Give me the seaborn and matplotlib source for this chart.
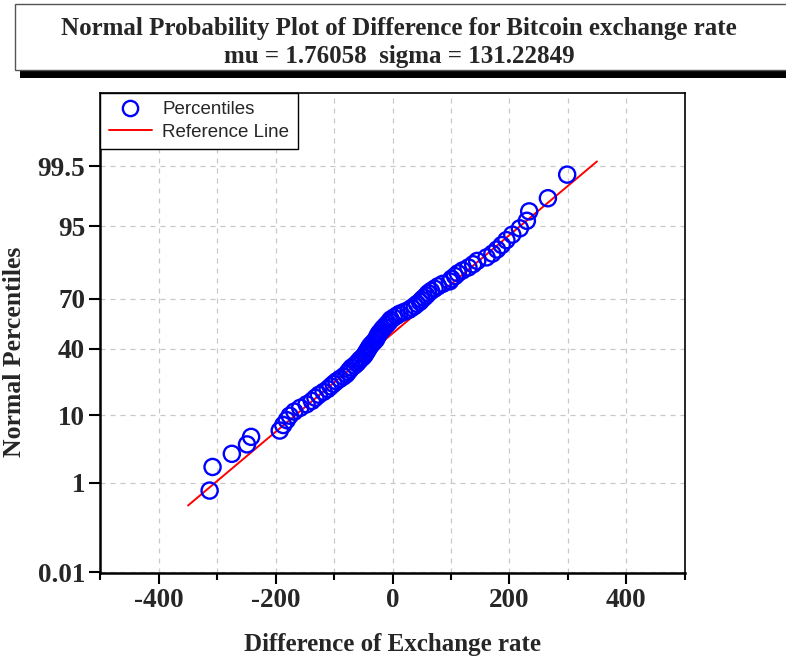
import matplotlib
matplotlib.use("Agg")
import matplotlib.pyplot as plt
import numpy as np
import pandas as pd
import seaborn as sns
from matplotlib.patches import Rectangle
from matplotlib.lines import Line2D
from matplotlib.ticker import MultipleLocator
from statistics import NormalDist

# ---- data -------------------------------------------------------------
title_line1 = "Normal Probability Plot of Difference for Bitcoin exchange rate"
title_line2 = "mu = 1.76058  sigma = 131.22849"
mu = 1.76058
sigma = 131.22849

# sorted differences
diff_values = [
    -313, -308, -275, -249, -242,
    -193, -187, -181, -176, -168,
    -158, -147, -138, -132, -126,
    -118, -111, -106, -101, -96,
    -90, -84, -79, -76, -73,
    -70, -65, -61, -58, -55,
    -51, -48, -46, -44, -42,
    -40, -38, -35, -32, -29,
    -27, -26, -24, -22,
    -19, -17, -14, -11, -8,
    -5, -3, 2, 7, 12,
    20, 28, 33, 38, 42,
    47, 50, 54, 58, 61,
    66, 72, 78, 86, 98,
    101, 107, 112, 120, 130,
    138, 145, 161, 171, 179,
    187, 195, 205, 218, 230,
    234, 266, 299,
]
ref_x = [-350, 350]
ytick_pct = [0.01, 1, 10, 40, 70, 95, 99.5]
ytick_labels = ["0.01", "1", "10", "40", "70", "95", "99.5"]
xtick_major = [-400, -200, 0, 200, 400]

# ---- derived ----------------------------------------------------------
nd = NormalDist()
n = len(diff_values)
z_pos = [nd.inv_cdf((i + 1 - 0.375) / (n + 0.25)) for i in range(n)]
df = pd.DataFrame({"x": diff_values, "z": z_pos})
ref_df = pd.DataFrame({"x": ref_x, "z": [(v - mu) / sigma for v in ref_x]})

sns.set_style("white")
plt.rcParams["font.family"] = ["Liberation Serif", "DejaVu Serif"]

fig = plt.figure(figsize=(7.86, 6.59), dpi=100)

# title box with shadow
fig.patches.append(Rectangle((20 / 786, (659 - 78) / 659), 1.2, 14 / 659,
                             transform=fig.transFigure, facecolor="black",
                             edgecolor="none", zorder=1))
fig.patches.append(Rectangle((15 / 786, (659 - 70) / 659), 1.2, 66 / 659,
                             transform=fig.transFigure, facecolor="white",
                             edgecolor="#555555", linewidth=1.0, zorder=2))
fig.text(399 / 786, 1 - 29 / 659, title_line1, ha="center", va="center",
         fontsize=18, fontweight="bold", zorder=3)
fig.text(399 / 786, 1 - 56 / 659, title_line2, ha="center", va="center",
         fontsize=18, fontweight="bold", zorder=3)

ax = fig.add_axes([100.4 / 786, 1 - 572.5 / 659, 584.2 / 786, 479.8 / 659])

sns.lineplot(data=ref_df, x="x", y="z", color="red", linewidth=1.4, ax=ax,
             zorder=3, legend=False)
sns.scatterplot(data=df, x="x", y="z", ax=ax, marker="o", s=135,
                color="blue", linewidth=1.7, zorder=4, legend=False)
for coll in ax.collections:
    coll.set_facecolor("none")
    coll.set_edgecolor("blue")

zlim = nd.inv_cdf(0.9999)
ax.set_xlim(-500, 500)
ax.set_ylim(-zlim, zlim)
ax.set_xticks(xtick_major)
ax.set_xticklabels([str(v) for v in xtick_major])
ax.xaxis.set_minor_locator(MultipleLocator(100))
ax.set_yticks([nd.inv_cdf(p / 100) for p in ytick_pct])
ax.set_yticklabels(ytick_labels)

ax.grid(True, which="both", axis="x", color="#c8c8c8", linestyle=(0, (4, 4)),
        linewidth=0.9)
ax.grid(True, which="major", axis="y", color="#c8c8c8", linestyle=(0, (4, 4)),
        linewidth=0.9)
ax.set_axisbelow(True)

for side in ["left", "right", "top", "bottom"]:
    ax.spines[side].set_visible(True)
    ax.spines[side].set_color("black")
    ax.spines[side].set_linewidth(1.2)
ax.spines["bottom"].set_linewidth(1.8)
ax.spines["left"].set_linewidth(1.8)

ax.tick_params(axis="both", which="major", direction="out", length=8,
               width=1.5, color="black", labelsize=19.5, pad=3)
ax.tick_params(axis="x", which="minor", direction="out", length=5,
               width=1.5, color="black", bottom=True)
ax.tick_params(axis="x", which="major", bottom=True)
ax.tick_params(axis="y", which="major", left=True)
for lab in ax.get_xticklabels() + ax.get_yticklabels():
    lab.set_fontweight("bold")

ax.set_xlabel("Difference of Exchange rate", fontsize=18, fontweight="bold")
ax.xaxis.set_label_coords((393 - 100.4) / 584.2, (572.5 - 644) / 479.8)
ax.xaxis.label.set_va("center")
ax.set_ylabel("Normal Percentiles", fontsize=18.5, fontweight="bold")
ax.yaxis.set_label_coords((15 - 100.4) / 584.2, (572.5 - 352) / 479.8)
ax.yaxis.label.set_va("center")

handles = [
    Line2D([], [], marker="o", linestyle="none", markersize=11,
           markerfacecolor="none", markeredgecolor="blue",
           markeredgewidth=1.7, label="Percentiles"),
    Line2D([], [], color="red", linewidth=1.4, label="Reference Line"),
]
leg = ax.legend(handles=handles, loc="upper left", borderaxespad=0,
                frameon=True, fancybox=False, edgecolor="black",
                prop={"family": ["Liberation Sans", "DejaVu Sans"], "size": 13.5},
                handlelength=2.3, borderpad=0.45, labelspacing=0.3,
                handletextpad=0.55)
leg.get_frame().set_linewidth(1.0)
leg.get_frame().set_alpha(1)

fig.savefig("out.png", dpi=100)
